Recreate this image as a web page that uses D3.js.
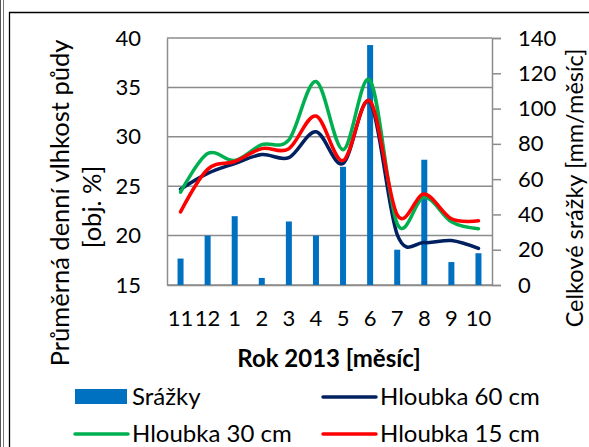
<!DOCTYPE html>
<html>
<head>
<meta charset="utf-8">
<script src="https://cdn.jsdelivr.net/npm/d3@7"></script>
<style>
  html, body { margin: 0; padding: 0; background: #fff; }
  svg { display: block; font-family: Lato, "Open Sans", sans-serif; }
</style>
</head>
<body>
<svg id="chart" width="589" height="447"></svg>
<script>
// Months of the hydrological year 2013 (Nov 2012 – Oct 2013)
const months = ["11", "12", "1", "2", "3", "4", "5", "6", "7", "8", "9", "10"];

// Monthly precipitation totals [mm/month]
const precipitation = [15, 28, 39, 4, 36, 28, 67, 136, 20, 71, 13, 18];

// Mean daily soil moisture [vol. %] by depth
const depth60 = [24.7, 26.3, 27.3, 28.2, 27.9, 30.5, 27.3, 33.5, 20.1, 19.3, 19.5, 18.7];
const depth30 = [24.4, 28.3, 27.6, 29.2, 29.7, 35.6, 28.7, 35.7, 21.2, 23.9, 21.4, 20.7];
const depth15 = [22.4, 26.7, 27.5, 28.8, 28.8, 32.1, 27.6, 33.6, 22.1, 24.2, 21.7, 21.5];

const leftTicks = [15, 20, 25, 30, 35, 40];
const rightTicks = [0, 20, 40, 60, 80, 100, 120, 140];

const svg = d3.select("#chart");
const plot = { left: 167, right: 492, top: 38, bottom: 285 };
const gridColor = "#8c8c8c";

// Outer frame
svg.append("line").attr("x1", 0.5).attr("x2", 0.5).attr("y1", 0).attr("y2", 447).attr("stroke", "#555").attr("stroke-width", 1);
svg.append("line").attr("x1", 3.5).attr("x2", 3.5).attr("y1", 0).attr("y2", 447).attr("stroke", "#777").attr("stroke-width", 1);
svg.append("line").attr("x1", 9.5).attr("x2", 9.5).attr("y1", 12).attr("y2", 447).attr("stroke", "#000").attr("stroke-width", 1.3);
svg.append("line").attr("x1", 9).attr("x2", 589).attr("y1", 12.5).attr("y2", 12.5).attr("stroke", "#000").attr("stroke-width", 1.3);

const x = d3.scaleBand().domain(months).range([plot.left, plot.right]).paddingInner(0).paddingOuter(0);
const yL = d3.scaleLinear().domain([15, 40]).range([plot.bottom, plot.top]);
const yR = d3.scaleLinear().domain([0, 140]).range([plot.bottom, plot.top]);

// Horizontal gridlines (left axis)
svg.append("g").selectAll("line").data(leftTicks).join("line")
  .attr("x1", plot.left).attr("x2", plot.right)
  .attr("y1", d => yL(d)).attr("y2", d => yL(d))
  .attr("stroke", gridColor).attr("stroke-width", 1.5);

// Left axis
const axL = svg.append("g").attr("transform", `translate(${plot.left},0)`)
  .call(d3.axisLeft(yL).tickValues(leftTicks).tickSize(0).tickPadding(26));
axL.select(".domain").attr("stroke", gridColor).attr("stroke-width", 1.5);
axL.selectAll("text").attr("font-size", 22).attr("fill", "#000").attr("font-family", "Lato");

// Right axis
const axR = svg.append("g").attr("transform", `translate(${plot.right},0)`)
  .call(d3.axisRight(yR).tickValues(rightTicks).tickSize(9).tickPadding(17));
axR.select(".domain").attr("stroke", gridColor).attr("stroke-width", 1.5);
axR.selectAll(".tick line").attr("stroke", gridColor).attr("stroke-width", 1.5);
axR.selectAll("text").attr("font-size", 22).attr("fill", "#000").attr("font-family", "Lato");

// Bottom axis
const axB = svg.append("g").attr("transform", `translate(0,${plot.bottom})`)
  .call(d3.axisBottom(x).tickSize(0).tickPadding(25));
axB.select(".domain").attr("stroke", gridColor).attr("stroke-width", 1.5);
axB.selectAll("text").attr("font-size", 22).attr("fill", "#000").attr("font-family", "Lato");

// Precipitation bars
const barW = 6;
svg.append("g").selectAll("rect").data(precipitation).join("rect")
  .attr("x", (d, i) => x(months[i]) + x.bandwidth() / 2 - barW / 2)
  .attr("width", barW)
  .attr("y", d => yR(d))
  .attr("height", d => yR(0) - yR(d))
  .attr("fill", "#0070C0");

// Smoothed soil-moisture lines
const line = d3.line()
  .x((d, i) => x(months[i]) + x.bandwidth() / 2)
  .y(d => yL(d))
  .curve(d3.curveCardinal.tension(0));

const series = [
  { values: depth60, color: "#002060" },
  { values: depth30, color: "#00B050" },
  { values: depth15, color: "#FF0000" }
];
svg.append("g").selectAll("path").data(series).join("path")
  .attr("d", d => line(d.values))
  .attr("fill", "none")
  .attr("stroke", d => d.color)
  .attr("stroke-width", 3.5)
  .attr("stroke-linejoin", "round")
  .attr("stroke-linecap", "round");

// Axis titles
svg.append("text")
  .attr("transform", "translate(69,203) rotate(-90)")
  .attr("text-anchor", "middle")
  .attr("font-size", 25.5)
  .text("Průměrná denní vlhkost půdy");
svg.append("text")
  .attr("transform", "translate(101,207) rotate(-90)")
  .attr("text-anchor", "middle")
  .attr("font-size", 25.5)
  .text("[obj. %]");
svg.append("text")
  .attr("transform", "translate(583,188) rotate(-90)")
  .attr("text-anchor", "middle")
  .attr("font-size", 23.5)
  .text("Celkové srážky [mm/měsíc]");
svg.append("text")
  .attr("x", 329).attr("y", 367)
  .attr("text-anchor", "middle")
  .attr("font-size", 24)
  .attr("font-weight", "bold")
  .text("Rok 2013 [měsíc]");

// Legend
const legend = svg.append("g").attr("font-size", 24);
const legendItems = [
  { label: "Srážky", type: "bar", color: "#0070C0", x: 75, y: 397 },
  { label: "Hloubka 60 cm", type: "line", color: "#002060", x: 323, y: 397 },
  { label: "Hloubka 30 cm", type: "line", color: "#00B050", x: 75, y: 434 },
  { label: "Hloubka 15 cm", type: "line", color: "#FF0000", x: 323, y: 434 }
];
legendItems.forEach(it => {
  if (it.type === "bar") {
    legend.append("rect").attr("x", it.x).attr("y", it.y - 8).attr("width", 52).attr("height", 15).attr("fill", it.color);
  } else {
    legend.append("line").attr("x1", it.x).attr("x2", it.x + 53).attr("y1", it.y).attr("y2", it.y)
      .attr("stroke", it.color).attr("stroke-width", 3.5).attr("stroke-linecap", "round");
  }
  legend.append("text").attr("x", it.x + 57).attr("y", it.y + 8).text(it.label);
});
</script>
</body>
</html>
